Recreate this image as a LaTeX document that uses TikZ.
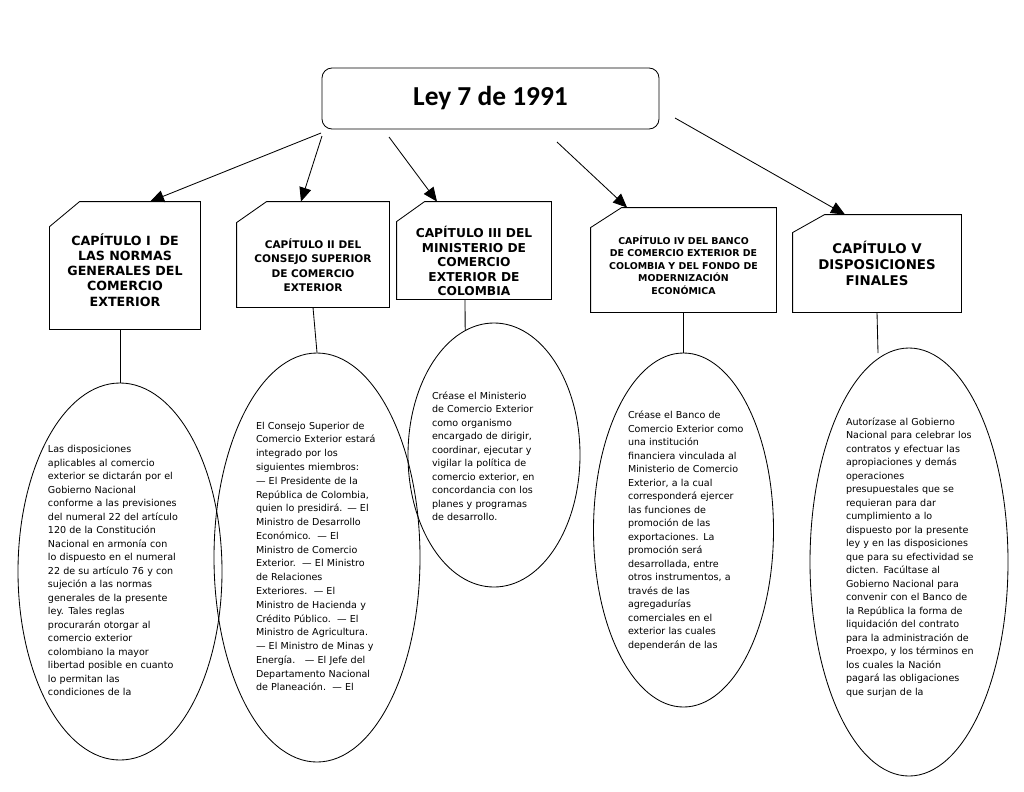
\documentclass[tikz,border=0pt]{standalone}
\usepackage{fontspec}
\setmainfont{DejaVu Sans}
\newfontfamily\tituloletra{Carlito}
\usetikzlibrary{shapes.geometric, arrows.meta}
\newcommand\letra[2]{\fontsize{#1}{#2}\selectfont}
\tikzstyle{titulo}=
[
	rectangle
	, rounded corners=2.5mm
	, minimum width=84.25mm
	, minimum height=15.25mm
	, draw=black
	, fill=white
]
\tikzstyle{capitulo}=
[
	rectangle
	, inner sep=0pt
]
\tikzstyle{captexto}=
[
	align=center
	, inner sep=0pt
]
\tikzstyle{burbuja}=
[
	ellipse
	, inner sep=0pt
	, draw=black
]
\tikzstyle{nota}=
[
	align=left
	, inner sep=0pt
	, text width=31mm
	, font=\letra{6.8}{9.6}
]
\tikzstyle{arrow} = [->,>={Triangle[length=3.5mm,width=3mm]}]
\tikzstyle{line} = [-]

\begin{document}
\begin{tikzpicture}[x=0.25mm, y=-0.25mm, line width=0.6pt]
\useasboundingbox (0,0) rectangle (1024,791);

\node(ley)[titulo] at (490.5,98.5) {\tituloletra\bfseries\letra{19.5}{22}Ley 7 de 1991};

\node(cap1)[capitulo, minimum width=37.5mm, minimum height=31.75mm] at (125,265.5) {};
\node(cap2)[capitulo, minimum width=38mm, minimum height=26.25mm] at (313,254.5) {};
\node(cap3)[capitulo, minimum width=38.5mm, minimum height=24.25mm] at (474,250.5) {};
\node(cap4)[capitulo, minimum width=46.25mm, minimum height=26mm] at (683.5,260) {};
\node(cap5)[capitulo, minimum width=42mm, minimum height=24.25mm] at (877,263.5) {};

% esquina cortada de cada capitulo
\foreach \c/\dx/\dy in {cap1/7.5/6.25, cap2/7.5/5.25, cap3/7/5, cap4/7.75/5, cap5/8/4.5}
	\draw ([xshift=\dx mm]\c.north west)--(\c.north east)--(\c.south east)--(\c.south west)--([yshift=-\dy mm]\c.north west)--cycle;

\node(txt1)[captexto, font=\letra{9}{10.8}\bfseries] at (125,270) {CAPÍTULO I\ \ DE\\LAS NORMAS\\GENERALES DEL\\COMERCIO\\EXTERIOR};
\node(txt2)[captexto, font=\letra{7.5}{10.3}\bfseries] at (313,265) {CAPÍTULO II DEL\\CONSEJO SUPERIOR\\DE COMERCIO\\EXTERIOR};
\node(txt3)[captexto, font=\letra{8.7}{10.3}\bfseries] at (474,261) {CAPÍTULO III DEL\\MINISTERIO DE\\COMERCIO\\EXTERIOR DE\\COLOMBIA};
\node(txt4)[captexto, font=\letra{6.7}{8.9}\bfseries] at (683.5,265) {CAPÍTULO IV DEL BANCO\\DE COMERCIO EXTERIOR DE\\COLOMBIA Y DEL FONDO DE\\MODERNIZACIÓN\\ECONÓMICA};
\node(txt5)[captexto, font=\letra{9.5}{11.3}\bfseries] at (877,263.5) {CAPÍTULO V\\DISPOSICIONES\\FINALES};

\node(ov1)[burbuja, minimum width=51mm, minimum height=94.25mm] at (120,571.5) {};
\node(ov2)[burbuja, minimum width=51.5mm, minimum height=102.25mm] at (317,557.5) {};
\node(ov3)[burbuja, minimum width=43mm, minimum height=66mm] at (494,455) {};
\node(ov4)[burbuja, minimum width=45mm, minimum height=88.5mm] at (683.5,530) {};
\node(ov5)[burbuja, minimum width=49.5mm, minimum height=107mm] at (909,562) {};

\node(nota1)[nota, text width=36mm] at (120,570.5) {Las disposiciones\\aplicables al comercio\\exterior se dictarán por el\\Gobierno Nacional\\conforme a las previsiones\\del numeral 22 del artículo\\120 de la Constitución\\Nacional en armonía con\\lo dispuesto en el numeral\\22 de su artículo 76 y con\\sujeción a las normas\\generales de la presente\\ley. Tales reglas\\procurarán otorgar al\\comercio exterior\\colombiano la mayor\\libertad posible en cuanto\\lo permitan las\\condiciones de la};
\node(nota2)[nota, font=\letra{6.8}{9.8}] at (318,556.5) {El Consejo Superior de\\Comercio Exterior estará\\integrado por los\\siguientes miembros:\\— El Presidente de la\\República de Colombia,\\quien lo presidirá. — El\\Ministro de Desarrollo\\Económico.\ \ — El\\Ministro de Comercio\\Exterior.\ \ — El Ministro\\de Relaciones\\Exteriores.\ \ — El\\Ministro de Hacienda y\\Crédito Público.\ \ — El\\Ministro de Agricultura.\\— El Ministro de Minas y\\Energía.\ \ \ — El Jefe del\\Departamento Nacional\\de Planeación.\ \ — El};
\node(nota3)[nota] at (494,456) {Créase el Ministerio\\de Comercio Exterior\\como organismo\\encargado de dirigir,\\coordinar, ejecutar y\\vigilar la política de\\comercio exterior, en\\concordancia con los\\planes y programas\\de desarrollo.};
\node(nota4)[nota] at (690,530.5) {Créase el Banco de\\Comercio Exterior como\\una institución\\financiera vinculada al\\Ministerio de Comercio\\Exterior, a la cual\\corresponderá ejercer\\las funciones de\\promoción de las\\exportaciones. La\\promoción será\\desarrollada, entre\\otros instrumentos, a\\través de las\\agregadurías\\comerciales en el\\exterior las cuales\\dependerán de las};
\node(nota5)[nota, text width=33mm] at (912,557.5) {Autorízase al Gobierno\\Nacional para celebrar los\\contratos y efectuar las\\apropiaciones y demás\\operaciones\\presupuestales que se\\requieran para dar\\cumplimiento a lo\\dispuesto por la presente\\ley y en las disposiciones\\que para su efectividad se\\dicten. Facúltase al\\Gobierno Nacional para\\convenir con el Banco de\\la República la forma de\\liquidación del contrato\\para la administración de\\Proexpo, y los términos en\\los cuales la Nación\\pagará las obligaciones\\que surjan de la};

\coordinate(s1) at (321,133);
\coordinate(s2) at (322,136);
\coordinate(s3) at (389,137);
\coordinate(s4) at (557,142);
\coordinate(s5) at (675,118);
\coordinate(k5) at (878,353);

\draw[arrow](s1)--([xshift=6.25mm]cap1.north);
\draw[arrow](s2)--([xshift=-3mm]cap2.north);
\draw[arrow](s3)--([xshift=-9.25mm]cap3.north);
\draw[arrow](s4)--([xshift=-14.1mm]cap4.north);
\draw[arrow](s5)--([xshift=-8mm]cap5.north);

\draw[line](cap1.south -| ov1.north)--(ov1.north);
\draw[line](cap2.south)--(ov2.north);
\draw[line]([xshift=-2.25mm]cap3.south)--(ov3.103);
\draw[line](cap4.south)--(ov4.north);
\draw[line](cap5.south)--(k5);

\end{tikzpicture}
\end{document}
